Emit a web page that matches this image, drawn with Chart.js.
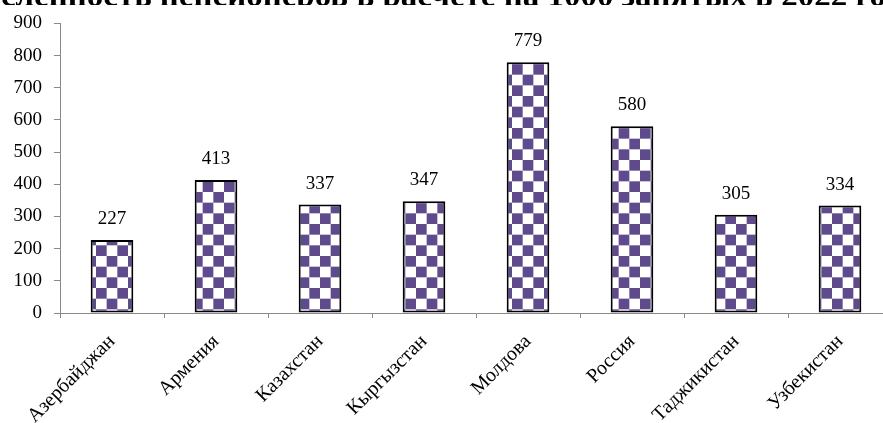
<!DOCTYPE html>
<html>
<head>
<meta charset="utf-8">
<script src="https://cdn.jsdelivr.net/npm/chart.js@4"></script>
<style>
  html, body { margin: 0; padding: 0; background: #fff; overflow: hidden; width: 883px; height: 423px; }
  #titleClip { position: absolute; left: 0; top: 0; width: 883px; height: 5px; overflow: hidden; z-index: 2; }
  #title {
    position: absolute; top: -21px; left: -62px; width: 1000px;
    text-align: center; white-space: nowrap;
    font: bold 33px 'Liberation Serif', 'Times New Roman', serif; line-height: 33px; color: #000;
  }
  #wrap { position: absolute; left: 0; top: 0; width: 900px; height: 423px; }
</style>
</head>
<body>
<div id="wrap"><canvas id="chart" width="900" height="423"></canvas></div>
<div id="titleClip"><div id="title">Численность пенсионеров в расчете на 1000 занятых в 2022 году</div></div>
<script>
// countries and pensioners per 1000 employed
const countries = ['Азербайджан', 'Армения', 'Казахстан', 'Кыргызстан', 'Молдова', 'Россия', 'Таджикистан', 'Узбекистан'];
const pensioners = [227, 413, 337, 347, 779, 580, 305, 334];
const yTicks = [0, 100, 200, 300, 400, 500, 600, 700, 800, 900];

const serif = "'Liberation Serif', 'Times New Roman', serif";
const axisGray = '#898989';

// checkerboard fill like the Excel pattern
function makeChecker() {
    const tile = document.createElement('canvas');
    tile.width = 64;
    tile.height = 64;
    const c = tile.getContext('2d');
    const s = 64 / 6;
    c.fillStyle = '#ffffff';
    c.fillRect(0, 0, 64, 64);
    c.fillStyle = '#5f4a8b';
    for (let r = 0; r < 6; r++) {
        for (let k = 0; k < 6; k++) {
            if ((r + k) % 2 === 0) c.fillRect(k * s, r * s, s, s);
        }
    }
    return document.getElementById('chart').getContext('2d').createPattern(tile, 'repeat');
}

// values above the bars
const valueLabels = {
    id: 'valueLabels',
    afterDatasetsDraw(chart) {
        const ctx = chart.ctx;
        const meta = chart.getDatasetMeta(0);
        ctx.save();
        ctx.font = '19px ' + serif;
        ctx.fillStyle = '#000';
        ctx.textAlign = 'center';
        ctx.textBaseline = 'alphabetic';
        meta.data.forEach((bar, i) => {
            ctx.fillText(String(pensioners[i]), bar.x, bar.y - 16);
        });
        ctx.restore();
    }
};

new Chart(document.getElementById('chart'), {
    type: 'bar',
    data: {
        labels: countries,
        datasets: [{
            data: pensioners,
            backgroundColor: makeChecker(),
            borderColor: '#000',
            borderWidth: 2,
            borderSkipped: false,
            barPercentage: 0.41,
            categoryPercentage: 1
        }]
    },
    options: {
        responsive: false,
        animation: false,
        layout: { padding: { top: 20, right: 8, left: 0, bottom: 0 } },
        plugins: { legend: { display: false }, tooltip: { enabled: false } },
        scales: {
            x: {
                afterFit(scale) { scale.height = 110; },
                border: { color: axisGray, width: 1 },
                grid: { offset: true, drawOnChartArea: false, tickLength: 5, color: axisGray },
                ticks: {
                    autoSkip: false, maxRotation: 45, minRotation: 45, padding: 12,
                    color: '#000', font: { family: serif, size: 20 }
                }
            },
            y: {
                min: 0,
                max: 900,
                afterFit(scale) { scale.width = 60; },
                afterBuildTicks(scale) { scale.ticks = yTicks.map(v => ({ value: v })); },
                border: { color: axisGray, width: 1 },
                grid: { drawOnChartArea: false, tickLength: 6, color: axisGray },
                ticks: { padding: 12, color: '#000', font: { family: serif, size: 19 } }
            }
        }
    },
    plugins: [valueLabels]
});
</script>
</body>
</html>
